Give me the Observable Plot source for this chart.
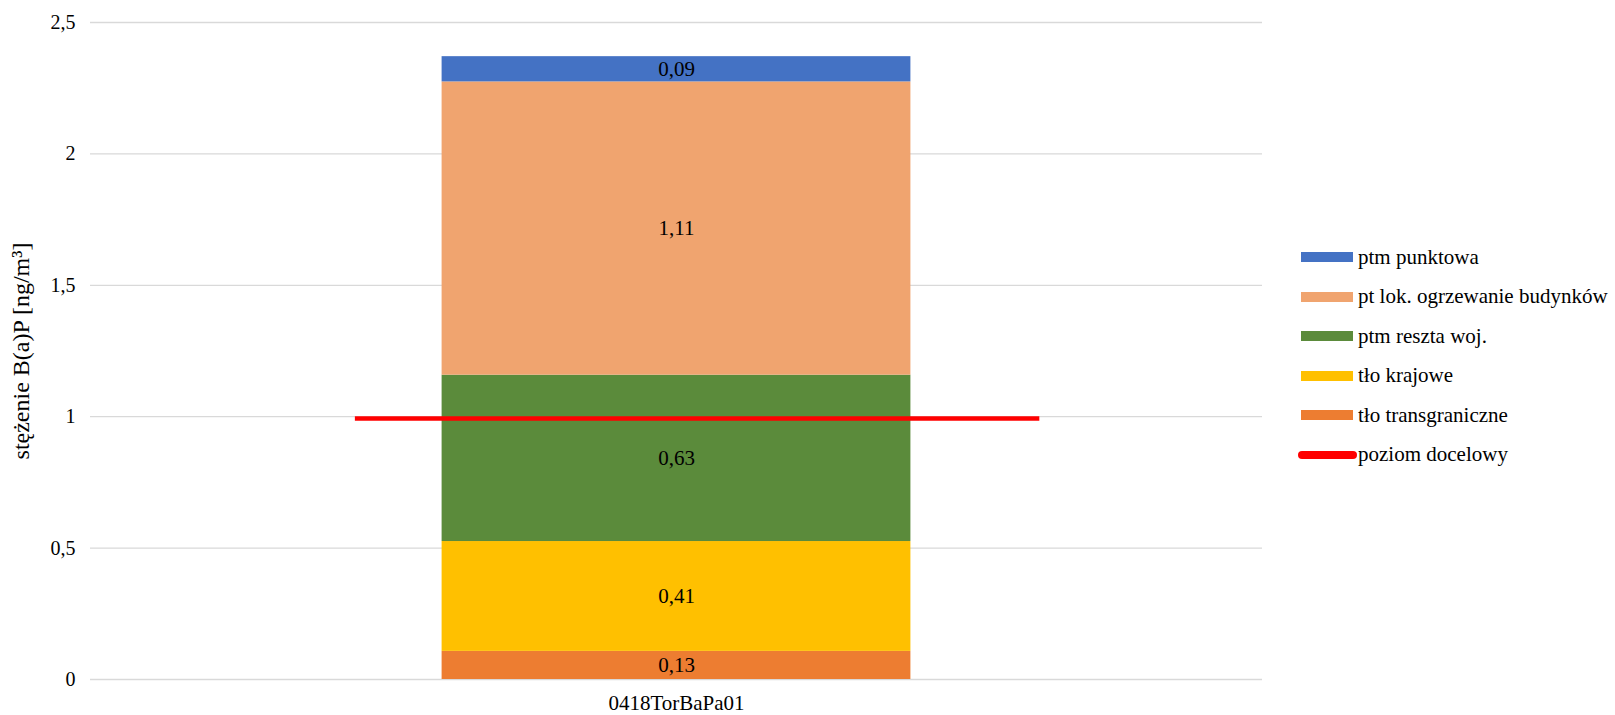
<!DOCTYPE html>
<html>
<head>
<meta charset="utf-8">
<script src="https://cdn.jsdelivr.net/npm/d3@7"></script>
<script src="https://cdn.jsdelivr.net/npm/@observablehq/plot@0.6"></script>
<style>
  html, body { margin: 0; padding: 0; background: #fff; }
  #wrap { position: relative; width: 1615px; height: 715px; font-family: "Liberation Serif", "Times New Roman", serif; }
  #legend { position: absolute; left: 1298px; top: 0; }
  .item { position: absolute; left: 0; white-space: nowrap; font-size: 21px; color: #000; display: flex; align-items: center; height: 30px; }
  .sw { display: inline-block; width: 52px; height: 10px; margin-left: 3px; margin-right: 5px; }
  .ln { display: inline-block; width: 59px; height: 8px; border-radius: 4px; margin-right: 1px; }
</style>
</head>
<body>
<div id="wrap"><div id="legend"></div></div>
<script>
// ---- data ----
const category = "0418TorBaPa01";
const seriesNames = ["tło transgraniczne", "tło krajowe", "ptm reszta woj.", "pt lok. ogrzewanie budynków", "ptm punktowa"];
const seriesValues = [0.107, 0.418, 0.633, 1.116, 0.096];
const seriesLabels = ["0,13", "0,41", "0,63", "1,11", "0,09"];
const seriesColors = ["#ED7D31", "#FFC000", "#5B8B3B", "#F0A46F", "#4472C4"];
const targetName = "poziom docelowy";
const targetValue = 0.993;
const targetSpan = [0.226, 0.81];
const barSpan = [0.3, 0.7];
const categoryPos = 0.5;
const yTicks = [0, 0.5, 1, 1.5, 2, 2.5];
const yTitle = "stężenie B(a)P [ng/m³]";

// ---- build table ----
const cum = d3.cumsum(seriesValues);
const rows = seriesNames.map((name, i) => ({
  name,
  value: seriesValues[i],
  label: seriesLabels[i],
  color: seriesColors[i],
  y1: cum[i] - seriesValues[i],
  y2: cum[i],
  mid: cum[i] - seriesValues[i] / 2
}));

const comma = d => String(d).replace(".", ",");

const chart = Plot.plot({
  width: 1615,
  height: 715,
  marginLeft: 90,
  marginRight: 353,
  marginTop: 22,
  marginBottom: 36,
  style: { fontFamily: '"Liberation Serif", "Times New Roman", serif', color: "#000", background: "#fff" },
  x: { domain: [0, 1], axis: null },
  y: { domain: [0, 2.5], axis: null },
  marks: [
    Plot.gridY(yTicks, { stroke: "#d9d9d9", strokeOpacity: 1, strokeWidth: 1.3 }),
    Plot.axisY(yTicks, { tickSize: 0, tickPadding: 15, tickFormat: comma, fontSize: 20, label: null }),
    Plot.axisX([categoryPos], { tickSize: 0, tickPadding: 16, tickFormat: () => category, fontSize: 21, label: null }),
    Plot.rect(rows, { x1: barSpan[0], x2: barSpan[1], y1: "y1", y2: "y2", fill: "color" }),
    Plot.text(rows, { x: categoryPos, y: "mid", text: "label", fontSize: 21, fill: "#000" }),
    Plot.ruleY([targetValue], { x1: targetSpan[0], x2: targetSpan[1], stroke: "#FF0000", strokeWidth: 4.5 }),
    Plot.text([yTitle], { frameAnchor: "left", textAnchor: "middle", dx: -69, rotate: -90, fontSize: 24, fill: "#000" })
  ]
});
document.getElementById("wrap").prepend(chart);

// ---- legend ----
const legend = document.getElementById("legend");
const legendItems = rows.slice().reverse();
const rowY0 = 242, rowStep = 39.5;
legendItems.forEach((r, i) => {
  const el = document.createElement("div");
  el.className = "item";
  el.style.top = (rowY0 + i * rowStep) + "px";
  el.innerHTML = `<span class="sw" style="background:${r.color}"></span><span>${r.name}</span>`;
  legend.appendChild(el);
});
const t = document.createElement("div");
t.className = "item";
t.style.top = (rowY0 + legendItems.length * rowStep) + "px";
t.innerHTML = `<span class="ln" style="background:#FF0000"></span><span>${targetName}</span>`;
legend.appendChild(t);
</script>
</body>
</html>
